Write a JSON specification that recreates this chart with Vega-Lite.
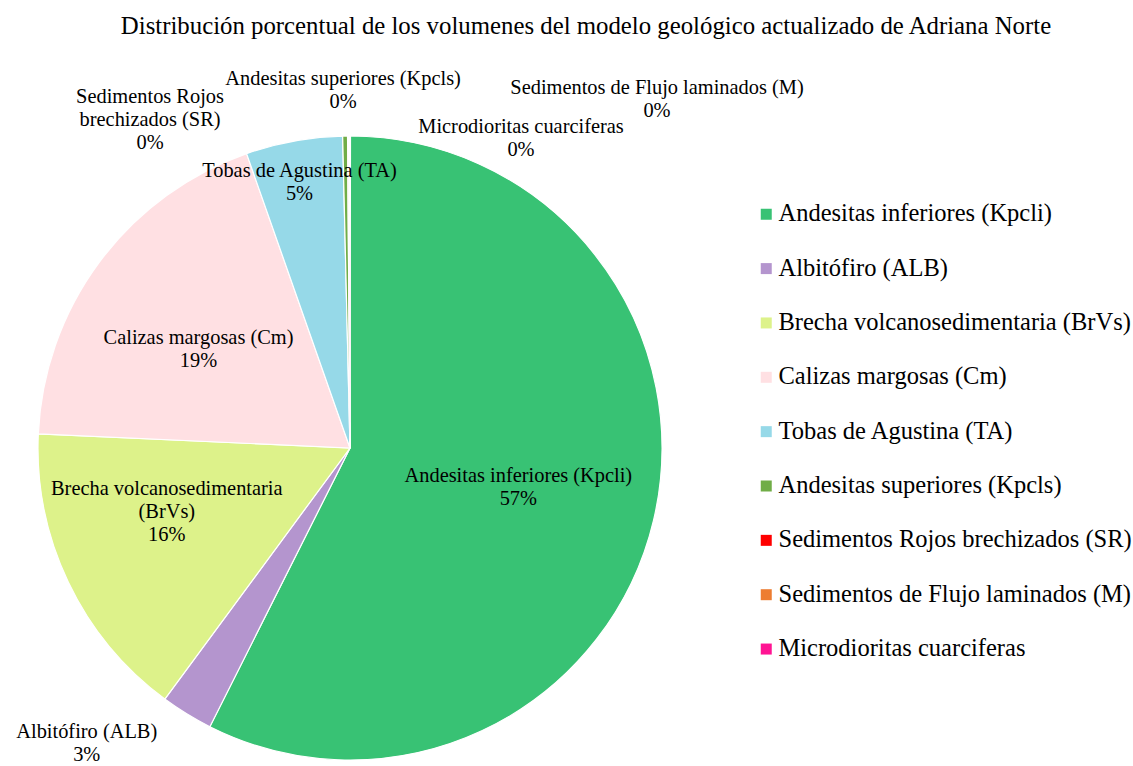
{
  "$schema": "https://vega.github.io/schema/vega-lite/v6.json",
  "width": 700,
  "height": 624,
  "padding": {"left": 0, "top": 13, "right": 0, "bottom": 0},
  "background": "white",
  "title": {
    "text": "Distribución porcentual de los volumenes del modelo geológico actualizado de Adriana Norte",
    "font": "Liberation Serif",
    "fontSize": 24.8,
    "fontWeight": "normal",
    "color": "#000000",
    "anchor": "middle",
    "frame": "bounds",
    "dx": 20,
    "offset": 30
  },
  "data": {
    "values": [
      {"nombre": "Andesitas inferiores (Kpcli)", "etiqueta": "Andesitas inferiores (Kpcli)", "volumen": 57.4, "orden": 1},
      {"nombre": "Albitófiro (ALB)", "etiqueta": "Albitófiro (ALB)", "volumen": 2.7, "orden": 2},
      {"nombre": "Brecha volcanosedimentaria (BrVs)", "etiqueta": "Brecha volcanosedimentaria\n(BrVs)", "volumen": 15.6, "orden": 3},
      {"nombre": "Calizas margosas (Cm)", "etiqueta": "Calizas margosas (Cm)", "volumen": 18.9, "orden": 4},
      {"nombre": "Tobas de Agustina (TA)", "etiqueta": "Tobas de Agustina (TA)", "volumen": 5.0, "orden": 5},
      {"nombre": "Andesitas superiores (Kpcls)", "etiqueta": "Andesitas superiores (Kpcls)", "volumen": 0.25, "orden": 6},
      {"nombre": "Sedimentos Rojos brechizados (SR)", "etiqueta": "Sedimentos Rojos\nbrechizados (SR)", "volumen": 0.05, "orden": 7},
      {"nombre": "Sedimentos de Flujo laminados (M)", "etiqueta": "Sedimentos de Flujo laminados (M)", "volumen": 0.05, "orden": 8},
      {"nombre": "Microdioritas cuarciferas", "etiqueta": "Microdioritas cuarciferas", "volumen": 0.05, "orden": 9}
    ]
  },
  "transform": [
    {"joinaggregate": [{"op": "sum", "field": "volumen", "as": "total"}]},
    {"stack": "volumen", "groupby": [], "sort": [{"field": "orden", "order": "ascending"}], "as": ["v0", "v1"]},
    {"calculate": "(datum.v0 + datum.v1) / 2", "as": "medio"},
    {"calculate": "datum.etiqueta + '\\n' + format(datum.volumen / datum.total, '.0%')", "as": "rotulo"}
  ],
  "layer": [
    {
      "mark": {"type": "arc", "outerRadius": 312, "stroke": "white", "strokeWidth": 1.2},
      "encoding": {
        "theta": {"field": "v0", "type": "quantitative"},
        "theta2": {"field": "v1"},
        "color": {
          "field": "nombre",
          "type": "nominal",
          "scale": {
            "domain": ["Andesitas inferiores (Kpcli)", "Albitófiro (ALB)", "Brecha volcanosedimentaria (BrVs)", "Calizas margosas (Cm)", "Tobas de Agustina (TA)", "Andesitas superiores (Kpcls)", "Sedimentos Rojos brechizados (SR)", "Sedimentos de Flujo laminados (M)", "Microdioritas cuarciferas"],
            "range": ["#38C274", "#B495CE", "#DDF28A", "#FFE0E3", "#96D9E8", "#70AD47", "#FF0000", "#ED7D31", "#FF1493"]
          },
          "legend": {
            "title": null,
            "orient": "none",
            "legendX": 754,
            "legendY": 66,
            "symbolType": "square",
            "symbolSize": 121,
            "symbolStrokeWidth": 0,
            "labelFont": "Liberation Serif",
            "labelFontSize": 24.5,
            "labelColor": "#000000",
            "labelOffset": 0,
            "labelLimit": 500,
            "rowPadding": 29.35,
            "padding": 0
          }
        }
      }
    },
    {
      "transform": [{"filter": "datum.orden === 1"}],
      "mark": {"type": "text", "radius": 173, "dx": 0, "dy": -11.5, "lineBreak": "\n", "lineHeight": 23, "font": "Liberation Serif", "fontSize": 20.4, "color": "#000000"},
      "encoding": {"theta": {"field": "medio", "type": "quantitative"}, "text": {"field": "rotulo"}}
    },
    {
      "transform": [{"filter": "datum.orden === 2"}],
      "mark": {"type": "text", "radius": 312, "dx": -100, "dy": 18.5, "lineBreak": "\n", "lineHeight": 23, "font": "Liberation Serif", "fontSize": 20.4, "color": "#000000"},
      "encoding": {"theta": {"field": "medio", "type": "quantitative"}, "text": {"field": "rotulo"}}
    },
    {
      "transform": [{"filter": "datum.orden === 3"}],
      "mark": {"type": "text", "radius": 193, "dx": -9, "dy": -42, "lineBreak": "\n", "lineHeight": 23, "font": "Liberation Serif", "fontSize": 20.4, "color": "#000000"},
      "encoding": {"theta": {"field": "medio", "type": "quantitative"}, "text": {"field": "rotulo"}}
    },
    {
      "transform": [{"filter": "datum.orden === 4"}],
      "mark": {"type": "text", "radius": 180, "dx": -7, "dy": -2.5, "lineBreak": "\n", "lineHeight": 23, "font": "Liberation Serif", "fontSize": 20.4, "color": "#000000"},
      "encoding": {"theta": {"field": "medio", "type": "quantitative"}, "text": {"field": "rotulo"}}
    },
    {
      "transform": [{"filter": "datum.orden === 5"}],
      "mark": {"type": "text", "radius": 270, "dx": -2, "dy": -11.5, "lineBreak": "\n", "lineHeight": 23, "font": "Liberation Serif", "fontSize": 20.4, "color": "#000000"},
      "encoding": {"theta": {"field": "medio", "type": "quantitative"}, "text": {"field": "rotulo"}}
    },
    {
      "transform": [{"filter": "datum.orden === 6"}],
      "mark": {"type": "text", "radius": 312, "dx": -2, "dy": -57.5, "lineBreak": "\n", "lineHeight": 23, "font": "Liberation Serif", "fontSize": 20.4, "color": "#000000"},
      "encoding": {"theta": {"field": "medio", "type": "quantitative"}, "text": {"field": "rotulo"}}
    },
    {
      "transform": [{"filter": "datum.orden === 7"}],
      "mark": {"type": "text", "radius": 312, "dx": -198, "dy": -39, "lineBreak": "\n", "lineHeight": 23, "font": "Liberation Serif", "fontSize": 20.4, "color": "#000000"},
      "encoding": {"theta": {"field": "medio", "type": "quantitative"}, "text": {"field": "rotulo"}}
    },
    {
      "transform": [{"filter": "datum.orden === 8"}],
      "mark": {"type": "text", "radius": 312, "dx": 308, "dy": -48.5, "lineBreak": "\n", "lineHeight": 23, "font": "Liberation Serif", "fontSize": 20.4, "color": "#000000"},
      "encoding": {"theta": {"field": "medio", "type": "quantitative"}, "text": {"field": "rotulo"}}
    },
    {
      "transform": [{"filter": "datum.orden === 9"}],
      "mark": {"type": "text", "radius": 312, "dx": 171, "dy": -9.5, "lineBreak": "\n", "lineHeight": 23, "font": "Liberation Serif", "fontSize": 20.4, "color": "#000000"},
      "encoding": {"theta": {"field": "medio", "type": "quantitative"}, "text": {"field": "rotulo"}}
    }
  ],
  "config": {"view": {"stroke": null}}
}
